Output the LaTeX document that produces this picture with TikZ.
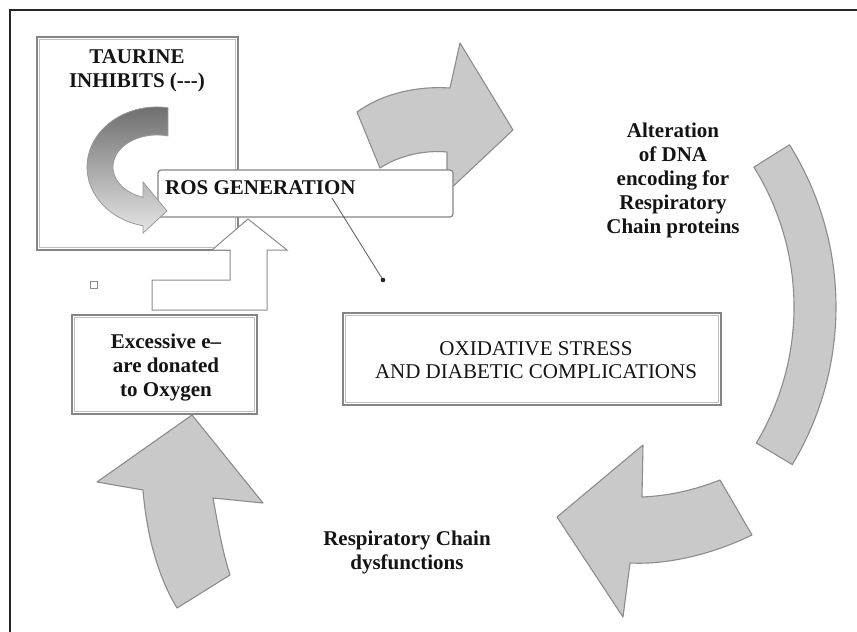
\documentclass[tikz,border=0pt]{standalone}
\usepackage{fontspec}
\setmainfont{Liberation Serif}
\begin{document}
\begin{tikzpicture}[x=1pt,y=-1pt,
  agray/.style={fill=black!21, draw=black!45, line width=1.1pt, line join=round},
  frameline/.style={draw=black!85, line width=1.4pt},
  boxo/.style={draw=black!48, line width=1.2pt, fill=white, inner sep=0pt},
  boxi/.style={draw=black!25, line width=0.8pt},
  outlinearrow/.style={draw=black!45, line width=1pt, fill=white, line join=miter},
  lbl/.style={font=\fontsize{21}{24}\selectfont\bfseries, text=black!92, align=center, inner sep=0pt},
  lblr/.style={font=\fontsize{21}{23.5}\selectfont, text=black!92, align=center, inner sep=0pt}]
\useasboundingbox (0,0) rectangle (857,632);
\fill[white] (0,0) rectangle (857,632);
% frame
\draw[frameline] (10,632) -- (10,10) -- (857,10);

% TAURINE box
\node[boxo, minimum width=201pt, minimum height=213pt] (taubox) at (137.5,143.5) {};
\draw[boxi] ([shift={(3,3)}]taubox.north west) rectangle ([shift={(-3,-3)}]taubox.south east);

% top big arrow (pointing right)
\path[agray] (357,112) .. controls (385,92) and (420,86) .. (450,88) -- (460,43) -- (513,130)
  -- (447,192) -- (447,152) .. controls (425,150) and (400,155) .. (380,168) -- cycle;

% stepped outline arrow
\path[outlinearrow] (152,310) -- (267,310) -- (267,250) -- (287,250) -- (248,219)
  -- (212,250) -- (230,250) -- (230,280) -- (152,280) -- cycle;

% ROS box
\node[boxo, rounded corners=3pt, minimum width=295pt, minimum height=47pt] (rosbox) at (305.5,193.5) {};

% taurine curved arrow
\path[top color=black!58, bottom color=black!10, draw=black!40, line width=0.8pt]
  (168,107.7) arc[start angle=-81, end angle=-258.5, x radius=70, y radius=60]
  -- (143,233) -- (167,211) -- (143,182) -- (143,197.3)
  arc[start angle=-251.5, end angle=-75.5, x radius=44, y radius=32] -- cycle;

% pointer line
\coordinate (ls) at (332,198);
\coordinate (le) at (383,280);
\draw[black!60, line width=0.9pt] (ls) -- (le);
\fill[black!85] (le) circle (2.3);

% right band
\path[agray] (789.5,144.8) arc[start angle=-32, end angle=31, radius=306]
  -- (756.3,443) arc[start angle=31, end angle=-32, radius=264] -- cycle;

% bottom-right arrow (pointing left)
\path[agray] (557,517) -- (643,445) -- (642,497) .. controls (668,496) and (695,490) .. (720,480)
  -- (752,535) .. controls (715,553) and (670,565) .. (630,563) -- (623,617) -- cycle;

% bottom-left arrow (pointing up)
\path[agray] (192,415) -- (263,503) -- (213,498) .. controls (218,525) and (222,550) .. (230,575)
  -- (177,608) .. controls (160,580) and (147,540) .. (143,490) -- (97,482) -- cycle;

% Excessive box
\node[boxo, minimum width=185pt, minimum height=99pt] (excbox) at (164.5,364.5) {};
\draw[boxi] ([shift={(3,3)}]excbox.north west) rectangle ([shift={(-3,-3)}]excbox.south east);

% Oxidative box
\node[boxo, minimum width=378pt, minimum height=92pt] (oxbox) at (532,359) {};
\draw[boxi] ([shift={(3,3)}]oxbox.north west) rectangle ([shift={(-3,-3)}]oxbox.south east);

% small square
\node[draw=black!45, line width=1pt, minimum size=7pt, inner sep=0pt] (sq) at (94,285) {};

% texts
\node[lbl] (taurine) at (137,71) {TAURINE\\INHIBITS (-{}-{}-)};
\node[lbl, anchor=west] (ros) at (165,188) {ROS GENERATION};
\node[lbl] (alter) at (673,180) {Alteration\\of DNA\\encoding for\\Respiratory\\Chain proteins};
\node[lbl] (exc) at (166,368) {Excessive e–\\are donated\\to Oxygen};
\node[lblr] (ox) at (536,360) {OXIDATIVE STRESS\\AND DIABETIC COMPLICATIONS};
\node[lbl] (resp) at (407,552) {Respiratory Chain\\dysfunctions};
\end{tikzpicture}
\end{document}
